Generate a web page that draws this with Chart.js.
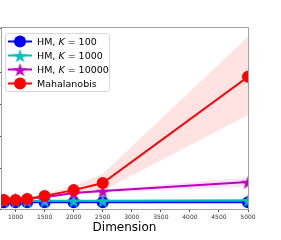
<!DOCTYPE html>
<html>
<head>
<meta charset="utf-8">
<script src="https://cdn.jsdelivr.net/npm/chart.js@4.4.0/dist/chart.umd.min.js"></script>
<style>
html, body { margin: 0; padding: 0; background: #fff; }
#wrap { position: relative; width: 281px; height: 240px; overflow: hidden; font-family: "DejaVu Sans", sans-serif; }
#chart { position: absolute; left: -5px; top: 0; }
#legend { position: absolute; left: 5px; top: 33px; width: 105px; height: 59px; box-sizing: border-box;
  border: 1px solid #d8d8d8; border-radius: 3px; background: rgba(255,255,255,0.85); padding-top: 1px; }
.row { height: 13.8px; display: flex; align-items: center; font-size: 9.5px; color: #000; white-space: nowrap; }
.row canvas { margin-left: 1px; margin-right: 4px; }
</style>
</head>
<body>
<div id="wrap">
  <canvas id="chart" width="286" height="240"></canvas>
  <div id="legend"></div>
</div>
<script>
const dims = [800, 1000, 1200, 1500, 2000, 2500, 5000];
const xTicks = [1000, 1500, 2000, 2500, 3000, 3500, 4000, 4500, 5000];
const kValues = [100, 1000, 10000];

const hm100 = [-0.04, -0.04, -0.04, -0.04, -0.04, -0.04, -0.04];
const hm1000 = [0.0, 0.0, 0.0, 0.01, 0.01, 0.01, 0.02];
const hm10000 = [0.05, 0.06, 0.08, 0.12, 0.25, 0.31, 0.59];
const hm10000Lo = [0.03, 0.04, 0.06, 0.09, 0.21, 0.26, 0.45];
const hm10000Hi = [0.07, 0.08, 0.10, 0.15, 0.29, 0.36, 0.73];
const mahal = [0.03, 0.03, 0.06, 0.16, 0.34, 0.56, 3.88];
const mahalLo = [0.01, 0.01, 0.03, 0.10, 0.24, 0.32, 2.69];
const mahalHi = [0.05, 0.05, 0.09, 0.22, 0.48, 0.84, 5.13];

const colors = ['#0000ff', '#00bfbf', '#bf00bf', '#ff0000'];

// filled five-point star, like matplotlib's '*' marker
function starImage(color, r) {
    const c = document.createElement('canvas');
    const s = Math.ceil(r * 2 + 2);
    c.width = s; c.height = s;
    const ctx = c.getContext('2d');
    ctx.beginPath();
    for (let i = 0; i < 10; i++) {
        const rad = i % 2 ? r * 0.382 : r;
        const a = -Math.PI / 2 + i * Math.PI / 5;
        ctx.lineTo(s / 2 + rad * Math.cos(a), s / 2 + 1 + rad * Math.sin(a));
    }
    ctx.closePath();
    ctx.fillStyle = color;
    ctx.fill();
    return c;
}

const pts = arr => arr.map((v, i) => ({ x: dims[i], y: v }));

function series(label, data, color, marker, order) {
    return {
        label, data: pts(data), borderColor: color, backgroundColor: color,
        borderWidth: 2, pointRadius: 6, pointStyle: marker, pointBorderWidth: 0,
        pointBackgroundColor: color, fill: false, tension: 0, order, clip: 0
    };
}
function band(data, fill, color) {
    return {
        label: '', data: pts(data), borderWidth: 0, pointRadius: 0, fill,
        backgroundColor: color, borderColor: 'rgba(0,0,0,0)', order: 10, clip: 0
    };
}

const starCyan = starImage(colors[1], 7.5);
const starMagenta = starImage(colors[2], 7.5);

// top and right spines
const framePlugin = {
    id: 'frame',
    afterDatasetsDraw(chart) {
        const a = chart.chartArea, ctx = chart.ctx;
        ctx.save();
        ctx.strokeStyle = '#a0a0a0';
        ctx.lineWidth = 1;
        ctx.beginPath();
        ctx.moveTo(a.left - 0.5, a.top - 0.5);
        ctx.lineTo(a.right + 0.5, a.top - 0.5);
        ctx.lineTo(a.right + 0.5, a.bottom);
        ctx.stroke();
        ctx.restore();
    }
};

Chart.defaults.font.family = '"DejaVu Sans", sans-serif';

new Chart(document.getElementById('chart').getContext('2d'), {
    type: 'line',
    data: {
        datasets: [
            band(mahalLo, false, 'rgba(0,0,0,0)'),
            band(mahalHi, '-1', 'rgba(255,0,0,0.11)'),
            band(hm10000Lo, false, 'rgba(0,0,0,0)'),
            band(hm10000Hi, '-1', 'rgba(191,0,191,0.11)'),
            series('HM, K = 100', hm100, colors[0], 'circle', 4),
            series('HM, K = 1000', hm1000, colors[1], starCyan, 3),
            series('HM, K = 10000', hm10000, colors[2], starMagenta, 2),
            series('Mahalanobis', mahal, colors[3], 'circle', 1)
        ]
    },
    options: {
        responsive: false,
        animation: false,
        layout: { padding: { top: 28, right: 33, left: 0, bottom: 0 } },
        plugins: { legend: { display: false }, tooltip: { enabled: false } },
        scales: {
            x: {
                type: 'linear', min: 750, max: 5000,
                afterBuildTicks: s => { s.ticks = xTicks.map(v => ({ value: v })); },
                ticks: { font: { size: 6 }, color: '#333', padding: 2, maxRotation: 0, autoSkip: false,
                    callback: v => String(v) },
                grid: { drawOnChartArea: false, tickLength: 3, color: '#555' },
                border: { color: '#a0a0a0' },
                title: { display: true, text: 'Dimension', font: { size: 12 }, color: '#000', padding: { top: 0, bottom: 5 } },
                afterFit: s => { s.height = 31; s.paddingLeft = 0; s.paddingRight = 0; }
            },
            y: {
                type: 'linear', min: -0.25, max: 5.406,
                ticks: { display: false, stepSize: 1 },
                grid: { drawOnChartArea: false, tickLength: 4, color: '#555' },
                border: { color: '#a0a0a0' },
                afterFit: s => { s.width = 1; }
            }
        }
    },
    plugins: [framePlugin]
});

// legend
function legendIcon(color, marker) {
    const c = document.createElement('canvas');
    c.width = 26; c.height = 13;
    const ctx = c.getContext('2d');
    ctx.strokeStyle = color;
    ctx.lineWidth = 2;
    ctx.beginPath(); ctx.moveTo(1, 6.5); ctx.lineTo(25, 6.5); ctx.stroke();
    if (marker === 'circle') {
        ctx.fillStyle = color;
        ctx.beginPath(); ctx.arc(13, 6.5, 6, 0, Math.PI * 2); ctx.fill();
    } else {
        ctx.drawImage(marker, 13 - marker.width / 2, 6.5 - marker.height / 2);
    }
    return c;
}
const legend = document.getElementById('legend');
const legendItems = [
    [colors[0], 'circle', kValues[0]],
    [colors[1], starCyan, kValues[1]],
    [colors[2], starMagenta, kValues[2]],
    [colors[3], 'circle', null]
];
legendItems.forEach(([color, marker, k]) => {
    const row = document.createElement('div');
    row.className = 'row';
    row.appendChild(legendIcon(color, marker));
    const span = document.createElement('span');
    if (k === null) span.textContent = 'Mahalanobis';
    else span.innerHTML = 'HM, <i>K</i> = ' + k;
    row.appendChild(span);
    legend.appendChild(row);
});
</script>
</body>
</html>
